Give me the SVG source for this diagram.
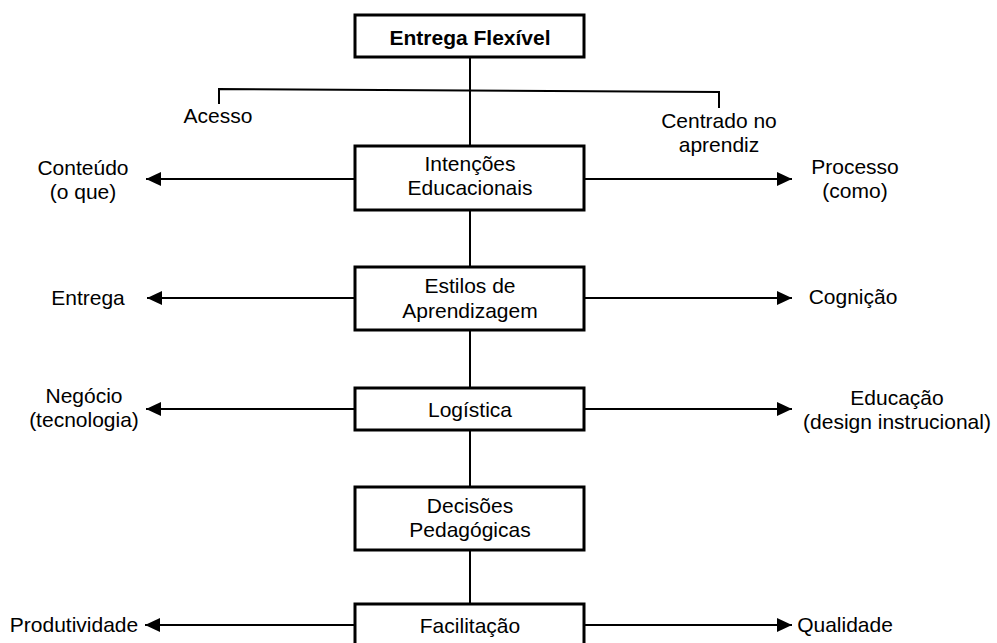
<svg xmlns="http://www.w3.org/2000/svg" width="997" height="643" viewBox="0 0 997 643">
<style>
.box{fill:#fff;stroke:#000;stroke-width:3}
.ln{fill:none;stroke:#000;stroke-width:2}
text{font-family:"Liberation Sans",Arial,sans-serif;font-size:21px;fill:#000;text-anchor:middle}
.b{font-weight:bold}
</style>
<defs>
<marker id="ah" markerUnits="userSpaceOnUse" markerWidth="16" markerHeight="14" refX="15" refY="7" orient="auto">
<path d="M0,0 L15,7 L0,14 Z" fill="#000"/>
</marker>
</defs>
<g id="connectors">
<line class="ln" x1="470" y1="57" x2="470" y2="604"/>
<polyline class="ln" points="219,104 219,89 719,92 719,108"/>
<line class="ln" x1="355" y1="179" x2="146" y2="179" marker-end="url(#ah)"/>
<line class="ln" x1="584" y1="179" x2="792" y2="179" marker-end="url(#ah)"/>
<line class="ln" x1="355" y1="298" x2="147" y2="298" marker-end="url(#ah)"/>
<line class="ln" x1="584" y1="298" x2="792" y2="298" marker-end="url(#ah)"/>
<line class="ln" x1="355" y1="409" x2="146" y2="409" marker-end="url(#ah)"/>
<line class="ln" x1="584" y1="409" x2="792" y2="409" marker-end="url(#ah)"/>
<line class="ln" x1="355" y1="625" x2="145" y2="625" marker-end="url(#ah)"/>
<line class="ln" x1="584" y1="625" x2="792" y2="625" marker-end="url(#ah)"/>
</g>
<g id="n-entrega">
<rect class="box" x="355" y="15" width="229" height="42"/>
<text class="b" x="470" y="45">Entrega Flexível</text>
</g>
<g id="n-acesso"><text x="218" y="123">Acesso</text></g>
<g id="n-centrado"><text x="719" y="128">Centrado no</text><text x="719" y="152">aprendiz</text></g>
<g id="n-intencoes">
<rect class="box" x="355" y="146" width="229" height="64"/>
<text x="470" y="171">Intenções</text>
<text x="470" y="195">Educacionais</text>
</g>
<g id="n-conteudo"><text x="83" y="175">Conteúdo</text><text x="83" y="199">(o que)</text></g>
<g id="n-processo"><text x="855" y="174">Processo</text><text x="855" y="198">(como)</text></g>
<g id="n-estilos">
<rect class="box" x="355" y="267" width="229" height="63"/>
<text x="470" y="293">Estilos de</text>
<text x="470" y="318">Aprendizagem</text>
</g>
<g id="n-entrega2"><text x="88" y="305">Entrega</text></g>
<g id="n-cognicao"><text x="853" y="304">Cognição</text></g>
<g id="n-logistica">
<rect class="box" x="355" y="388" width="229" height="42"/>
<text x="470" y="417">Logística</text>
</g>
<g id="n-negocio"><text x="84" y="403">Negócio</text><text x="84" y="427">(tecnologia)</text></g>
<g id="n-educacao"><text x="897" y="405">Educação</text><text x="897" y="429">(design instrucional)</text></g>
<g id="n-decisoes">
<rect class="box" x="355" y="487" width="229" height="63"/>
<text x="470" y="513">Decisões</text>
<text x="470" y="537">Pedagógicas</text>
</g>
<g id="n-facilitacao">
<rect class="box" x="355" y="604" width="229" height="60"/>
<text x="470" y="633">Facilitação</text>
</g>
<g id="n-produtividade"><text x="74" y="632">Produtividade</text></g>
<g id="n-qualidade"><text x="845" y="632">Qualidade</text></g>
</svg>
